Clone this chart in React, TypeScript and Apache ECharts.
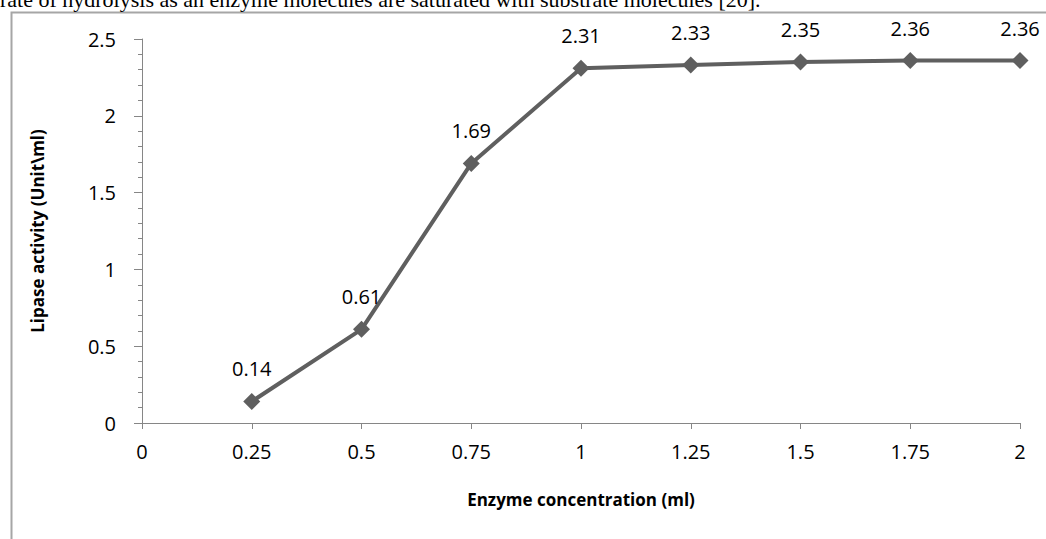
import React, { useEffect, useRef } from "react";
import * as echarts from "echarts";

const xValues = [0.25, 0.5, 0.75, 1, 1.25, 1.5, 1.75, 2];
const yValues = [0.14, 0.61, 1.69, 2.31, 2.33, 2.35, 2.36, 2.36];
const xTicks = ["0", "0.25", "0.5", "0.75", "1", "1.25", "1.5", "1.75", "2"];

export default function App() {
  const ref = useRef<HTMLDivElement>(null);
  useEffect(() => {
    const chart = echarts.init(ref.current!, null, { renderer: "svg" });
    const font = "'Open Sans', 'Noto Sans', sans-serif";
    chart.setOption({
      animation: false,
      backgroundColor: "#fff",
      graphic: [
        { type: "rect", left: 9, top: 10, shape: { width: 1100, height: 600 }, style: { fill: "none", stroke: "#a6a6a6", lineWidth: 2 }, z: -1 },
        { type: "text", left: 0, top: -12, style: { text: "rate of hydrolysis as an enzyme molecules are saturated with substrate molecules [20].", font: "22px 'Liberation Serif', serif", fill: "#000" } },
      ],
      grid: { left: 142, right: 26, top: 39, bottom: 116 },
      xAxis: {
        type: "value", min: 0, max: 2, interval: 0.25,
        name: "Enzyme concentration (ml)", nameLocation: "middle", nameGap: 68,
        nameTextStyle: { fontFamily: font, fontWeight: "bold", fontSize: 17, color: "#000" },
        axisLine: { lineStyle: { color: "#868686" } },
        axisTick: { show: true, inside: false, length: 6, lineStyle: { color: "#868686" } },
        axisLabel: { fontFamily: font, fontSize: 20, color: "#000", margin: 18, formatter: (v: number) => xTicks[Math.round(v / 0.25)] },
        splitLine: { show: false },
      },
      yAxis: {
        type: "value", min: 0, max: 2.5, interval: 0.5,
        name: "Lipase activity (Unit\\ml)", nameLocation: "middle", nameGap: 96,
        nameTextStyle: { fontFamily: font, fontWeight: "bold", fontSize: 17, color: "#000" },
        axisLine: { show: true, lineStyle: { color: "#868686" } },
        axisTick: { show: true, length: 8, lineStyle: { color: "#868686" } },
        minorTick: { show: true, splitNumber: 5, length: 4, lineStyle: { color: "#868686" } },
        axisLabel: { fontFamily: font, fontSize: 20, color: "#000", margin: 26 },
        splitLine: { show: false },
      },
      series: [{
        type: "line",
        data: xValues.map((x, i) => [x, yValues[i]]),
        symbol: "diamond", symbolSize: 17,
        lineStyle: { color: "#5f5f5f", width: 4 },
        itemStyle: { color: "#5f5f5f" },
        label: { show: true, position: "top", distance: 14, fontFamily: font, fontSize: 20, color: "#000",
          formatter: (p: any) => p.value[1].toFixed(2) },
      }],
    });
    return () => chart.dispose();
  }, []);
  return (
    <div style={{ position: "absolute", left: 0, top: 0, width: 1046, height: 539, overflow: "hidden", background: "#fff" }}>
      <div ref={ref} style={{ position: "absolute", left: 0, top: 0, width: 1046, height: 539 }} />
    </div>
  );
}
